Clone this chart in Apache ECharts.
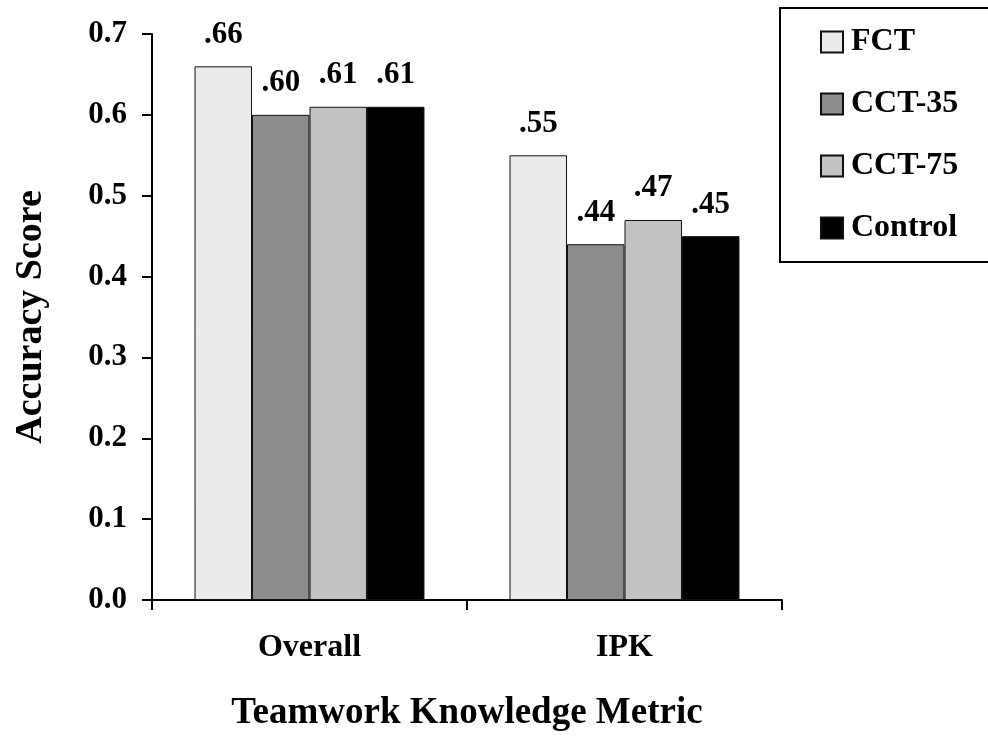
<!DOCTYPE html>
<html>
<head>
<meta charset="utf-8">
<script src="https://cdn.jsdelivr.net/npm/echarts@6/dist/echarts.min.js"></script>
<style>
html,body{margin:0;padding:0;background:#fff;}
#chart{width:988px;height:742px;}
</style>
</head>
<body>
<div id="chart"></div>
<script>
var categories = ['Overall', 'IPK'];
var seriesNames = ['FCT', 'CCT-35', 'CCT-75', 'Control'];
var fct = [0.66, 0.55];
var cct35 = [0.60, 0.44];
var cct75 = [0.61, 0.47];
var control = [0.61, 0.45];
var yTicks = [0.0, 0.1, 0.2, 0.3, 0.4, 0.5, 0.6, 0.7];

var colors = ['#ebebeb', '#8c8c8c', '#c2c2c2', '#000000'];
var FONT = '"Liberation Serif", "Times New Roman", serif';
var values = [fct, cct35, cct75, control];

var chart = echarts.init(document.getElementById('chart'));
var series = seriesNames.map(function (name, i) {
  return {
    name: name,
    type: 'bar',
    data: values[i],
    barGap: '0%',
    barCategoryGap: '27%',
    itemStyle: { color: colors[i], borderColor: '#111', borderWidth: 1 },
    label: {
      show: true,
      position: 'top',
      distance: 16,
      fontFamily: FONT,
      fontWeight: 'bold',
      fontSize: 31,
      color: '#000',
      formatter: function (p) { return p.value.toFixed(2).replace(/^0/, ''); }
    }
  };
});

chart.setOption({
  animation: false,
  backgroundColor: '#fff',
  grid: { left: 152, right: 206, top: 34, bottom: 142, containLabel: false },
  legend: {
    orient: 'vertical',
    left: 780,
    top: 8,
    padding: [18, 200, 18, 40],
    itemGap: 30,
    itemWidth: 22,
    itemHeight: 21,
    borderColor: '#000',
    borderWidth: 2,
    icon: 'rect',
    data: seriesNames,
    textStyle: { fontFamily: FONT, fontWeight: 'bold', fontSize: 32, color: '#000', lineHeight: 30, padding: [0, 0, 0, 3] }
  },
  xAxis: {
    type: 'category',
    data: categories,
    name: 'Teamwork Knowledge Metric',
    nameLocation: 'middle',
    nameGap: 95,
    nameTextStyle: { fontFamily: FONT, fontWeight: 'bold', fontSize: 37, color: '#000' },
    axisLine: { lineStyle: { color: '#000', width: 2 } },
    axisTick: { show: true, length: 10, alignWithLabel: false, lineStyle: { color: '#000', width: 2 } },
    axisLabel: { margin: 32, fontFamily: FONT, fontWeight: 'bold', fontSize: 32, color: '#000' }
  },
  yAxis: {
    type: 'value',
    min: yTicks[0],
    max: yTicks[yTicks.length - 1],
    interval: 0.1,
    name: 'Accuracy Score',
    nameLocation: 'middle',
    nameGap: 102,
    nameRotate: 90,
    nameTextStyle: { fontFamily: FONT, fontWeight: 'bold', fontSize: 38, color: '#000' },
    splitLine: { show: false },
    axisLine: { show: true, lineStyle: { color: '#000', width: 2 } },
    axisTick: { show: true, length: 10, lineStyle: { color: '#000', width: 2 } },
    axisLabel: {
      margin: 25,
      fontFamily: FONT, fontWeight: 'bold', fontSize: 31, color: '#000',
      formatter: function (v) { return v.toFixed(1); }
    }
  },
  series: series
});
</script>
</body>
</html>
